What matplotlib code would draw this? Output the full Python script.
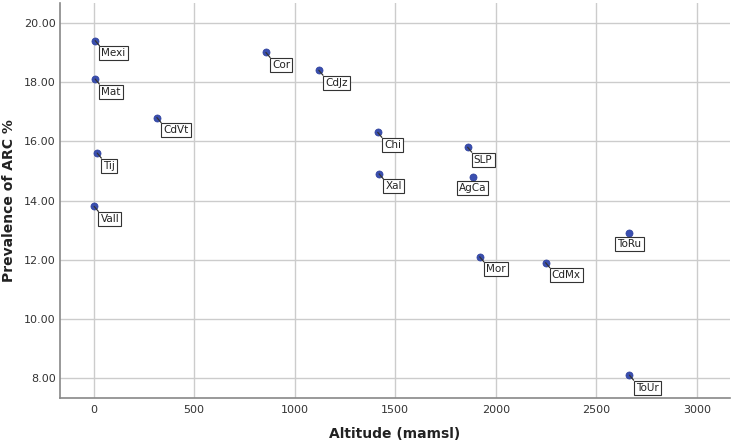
import matplotlib
matplotlib.use("Agg")
import matplotlib.pyplot as plt
from matplotlib.ticker import FormatStrFormatter

cities = ["Mexi", "Mat", "Tij", "Vall", "CdVt", "Cor", "CdJz", "Chi", "Xal",
          "SLP", "AgCa", "Mor", "CdMx", "ToRu", "ToUr"]
altitude = [8, 8, 18, 3, 315, 857, 1120, 1413, 1420, 1860, 1885, 1920, 2248, 2665, 2665]
prevalence = [19.4, 18.1, 15.6, 13.8, 16.8, 19.0, 18.4, 16.3, 14.9, 15.8, 14.8, 12.1, 11.9, 12.9, 8.1]
centered_labels = ["AgCa", "ToRu"]

x_ticks = [0, 500, 1000, 1500, 2000, 2500, 3000]
y_ticks = [8, 10, 12, 14, 16, 18, 20]

fig = plt.figure(figsize=(7.33, 4.43), dpi=100)
ax = fig.add_axes([60/733, 45/443, 670/733, 395/443])

ax.scatter(altitude, prevalence, s=26, color="#3a4fb0", zorder=3,
           edgecolors="#2d3f9a", linewidths=0.5)

box = dict(boxstyle="square,pad=0.2", fc="white", ec="#333333", lw=0.8)
for name, x, y in zip(cities, altitude, prevalence):
    if name in centered_labels:
        ax.annotate(name, (x, y), xytext=(0, -8), textcoords="offset points",
                    ha="center", va="center", fontsize=7.5, color="#222222",
                    bbox=box, zorder=4)
    else:
        ax.annotate(name, (x, y), xytext=(4.5, -9), textcoords="offset points",
                    ha="left", va="center", fontsize=7.5, color="#222222",
                    bbox=box,
                    arrowprops=dict(arrowstyle="-", color="#333333", lw=0.9,
                                    shrinkA=0, shrinkB=0, relpos=(0, 1)),
                    zorder=4)

ax.set_xlim(-167, 3165)
ax.set_ylim(7.33, 20.67)
ax.set_xticks(x_ticks)
ax.set_yticks(y_ticks)
ax.yaxis.set_major_formatter(FormatStrFormatter("%.2f"))
ax.grid(True, color="#cccccc", linewidth=1.0)
ax.set_axisbelow(True)
for s in ["top", "right"]:
    ax.spines[s].set_visible(False)
for s in ["left", "bottom"]:
    ax.spines[s].set_color("#888888")
    ax.spines[s].set_linewidth(1.2)
ax.tick_params(axis="y", length=0, labelsize=8, colors="#333333", pad=3)
ax.tick_params(axis="x", length=0, labelsize=8, colors="#333333", pad=5)

ax.set_xlabel("Altitude (mamsl)", fontsize=10, fontweight="bold", color="#222222", labelpad=9)
ax.set_ylabel("Prevalence of ARC %", fontsize=10, fontweight="bold", color="#222222", labelpad=6)

fig.savefig("out.png", dpi=100)
